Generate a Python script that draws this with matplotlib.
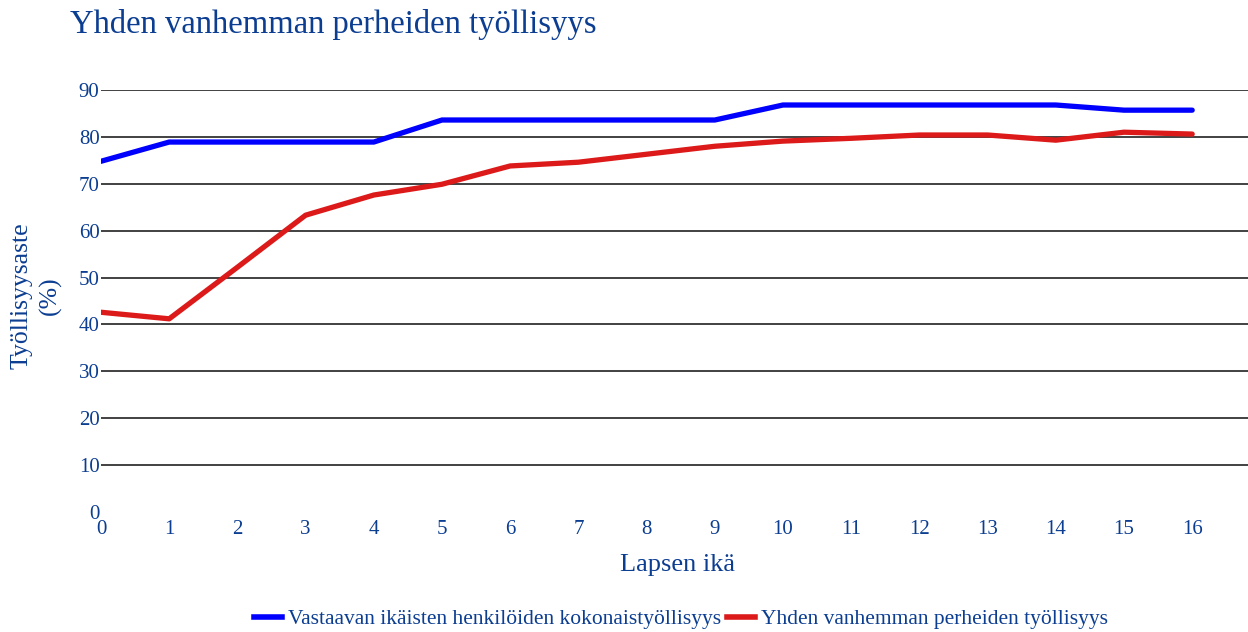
import matplotlib
matplotlib.use("Agg")
import matplotlib.pyplot as plt
from matplotlib.lines import Line2D

ages = list(range(17))
total_emp = [74.8, 78.9, 78.9, 78.9, 78.9, 83.6, 83.6, 83.6, 83.6, 83.6,
             86.8, 86.8, 86.8, 86.8, 86.8, 85.7, 85.7]
single_parent = [42.6, 41.2, 52.2, 63.3, 67.6, 69.9, 73.8, 74.6, 76.3, 78.0,
                 79.1, 79.7, 80.4, 80.4, 79.3, 81.0, 80.6]
yticks = [0, 10, 20, 30, 40, 50, 60, 70, 80, 90]
title = "Yhden vanhemman perheiden työllisyys"
ylabel = "Työllisyysaste\n(%)"
xlabel = "Lapsen ikä"
labels = ["Vastaavan ikäisten henkilöiden kokonaistyöllisyys",
          "Yhden vanhemman perheiden työllisyys"]

plt.rcParams['font.family'] = ['Liberation Serif', 'DejaVu Serif']
txt = '#0b3d91'
blue = '#0000ff'
red = '#dc1a1a'

fig = plt.figure(figsize=(12.48, 6.32), dpi=100)
ax = fig.add_axes([101/1248, 120/632, 1 - 101/1248, 422/632])
ax.set_xlim(0, (1248 - 101) / 68.2)
ax.set_ylim(0, 90)

for y in yticks[1:]:
    ax.axhline(y, color='#333333', lw=1.3, zorder=1)

ax.plot(ages, total_emp, color=blue, lw=3.8, solid_capstyle='round', zorder=3)
ax.plot(ages, single_parent, color=red, lw=3.8, solid_capstyle='round', zorder=3)

for s in ax.spines.values():
    s.set_visible(False)
ax.set_xticks(ages)
ax.set_yticks(yticks)
ax.tick_params(length=0, labelsize=15, colors=txt)
ax.tick_params(axis='x', pad=6)
ax.tick_params(axis='y', pad=1)

fig.text(70/1248, 1 - 24/632, title, fontsize=23.5, color=txt, va='center', ha='left')
fig.text(36/1248, 1 - 296/632, ylabel, fontsize=18.5, color=txt, rotation=90,
         va='center', ha='center', linespacing=1.35)
fig.text(677/1248, 1 - 565/632, xlabel, fontsize=19, color=txt, va='center', ha='center')

handles = [Line2D([], [], color=blue, lw=4), Line2D([], [], color=red, lw=4)]
leg = fig.legend(handles, labels, loc='center', bbox_to_anchor=(681/1248, 1 - 619/632),
                 ncol=2, frameon=False, fontsize=15.5, handlelength=1.3,
                 handletextpad=0.25, columnspacing=0.3)
for t in leg.get_texts():
    t.set_color(txt)

fig.savefig('out.png', dpi=100)
